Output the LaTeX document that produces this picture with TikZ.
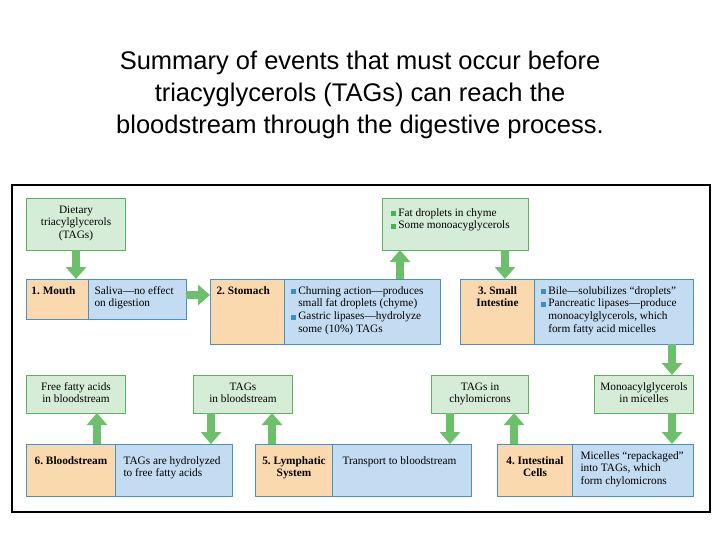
\documentclass[tikz,border=0pt]{standalone}
\usepackage{fontspec}
\setmainfont{Liberation Serif}
\newfontfamily\titlefont{Liberation Sans}
\usetikzlibrary{arrows.meta}
\definecolor{org}{HTML}{FBD9AE}
\definecolor{blu}{HTML}{C3DCF1}
\definecolor{bluline}{HTML}{4A90C8}
\definecolor{grn}{HTML}{D5EDD6}
\definecolor{grnline}{HTML}{5FAF5F}
\definecolor{garr}{HTML}{6CC06C}
\definecolor{bulb}{HTML}{3A8FC8}
\definecolor{bulg}{HTML}{4CAF50}
\frenchspacing
\newcommand{\bb}{\textcolor{bulb}{\rule{5pt}{5pt}}\ }
\newcommand{\bg}{\textcolor{bulg}{\rule{5pt}{5pt}}\ }
\newcommand{\tbx}[4]{\parbox[t][#2pt][t]{#1pt}{\vspace{6pt}#3\strut#4}}
\begin{document}
\begin{tikzpicture}[x=1pt,y=-1pt,
  base/.style={anchor=north west,inner sep=0pt,font=\fontsize{11.3}{12.6}\selectfont},
  obox/.style={base,fill=org,draw=bluline,line width=1pt,font=\fontsize{11.3}{12.6}\selectfont\bfseries},
  bbox/.style={base,fill=blu,draw=bluline,line width=1pt},
  gbox/.style={base,fill=grn,draw=grnline,line width=1pt},
  garrow/.style={draw=garr,line width=8pt,-{Triangle[width=20pt,length=12pt]}}]
\useasboundingbox (0,0) rectangle (720,540);
\fill[white] (0,0) rectangle (720,540);
\node[font=\titlefont\fontsize{25.5}{32}\selectfont,align=center] (title) at (360,95) {Summary of events that must occur before\\triacyglycerols (TAGs) can reach the\\bloodstream through the digestive process.};
\draw[line width=2pt] (12,185) rectangle (710,512);
% row 1
\node[gbox] (diet) at (26,198) {\tbx{99}{52}{\centering}{Dietary\\triacylglycerols\\(TAGs)}};
\node[obox] (mouth) at (26,279) {\tbx{62}{40}{\hspace*{5pt}}{1. Mouth}};
\node[bbox] (mouthb) at (88,279) {\tbx{98}{40}{\leftskip=6pt}{Saliva---no effect\\on digestion}};
\node[obox] (stom) at (210,279) {\tbx{74}{65}{\hspace*{6pt}}{2. Stomach}};
\node[bbox] (stomb) at (284,279) {\tbx{156}{65}{\leftskip=6pt}{\bb Churning action---produces\\\hphantom{\bb}small fat droplets (chyme)\\\bb Gastric lipases---hydrolyze\\\hphantom{\bb}some (10\%) TAGs}};
\node[gbox] (fat) at (382,198) {\tbx{146}{52}{\vspace{3pt}\leftskip=8pt}{\bg Fat droplets in chyme\\\bg Some monoacyglycerols}};
\node[obox] (small) at (460,279) {\tbx{74}{65}{\centering}{3. Small\\Intestine}};
\node[bbox] (smallb) at (534,279) {\tbx{159}{65}{\leftskip=6pt}{\bb Bile---solubilizes ``droplets''\\\bb Pancreatic lipases---produce\\\hphantom{\bb}monoacylglycerols, which\\\hphantom{\bb}form fatty acid micelles}};
% row 2 green
\node[gbox] (ffa) at (26,375) {\tbx{99}{38}{\centering}{Free fatty acids\\in bloodstream}};
\node[gbox] (tagb) at (193,375) {\tbx{99}{38}{\centering}{TAGs\\in bloodstream}};
\node[gbox] (tagc) at (431,375) {\tbx{97}{38}{\centering}{TAGs in\\chylomicrons}};
\node[gbox] (mono) at (594,375) {\tbx{99}{38}{\centering}{Monoacylglycerols\\in micelles}};
% row 3
\node[obox] (blood) at (26,444) {\tbx{89}{52}{\vspace{5pt}\centering}{6. Bloodstream}};
\node[bbox] (bloodb) at (115,444) {\tbx{117}{52}{\vspace{5pt}\leftskip=8pt}{TAGs are hydrolyzed\\to free fatty acids}};
\node[obox] (lymph) at (255,444) {\tbx{77}{52}{\vspace{5pt}\centering}{5. Lymphatic\\System}};
\node[bbox] (lymphb) at (332,444) {\tbx{139}{52}{\vspace{5pt}\leftskip=10pt}{Transport to bloodstream}};
\node[obox] (intc) at (497,444) {\tbx{75}{52}{\vspace{5pt}\centering}{4. Intestinal\\Cells}};
\node[bbox] (intcb) at (572,444) {\tbx{121}{52}{\leftskip=8pt}{Micelles ``repackaged''\\into TAGs, which\\form chylomicrons}};
% arrows
\coordinate (a1) at (76,250);
\draw[garrow] (a1) -- (a1 |- mouth.north);
\draw[garrow] (186,295) -- (stom.west |- 0,295);
\draw[garrow] (400,279) -- (400,250);
\draw[garrow] (505,250) -- (505,279);
\draw[garrow] (672,344) -- (672,375);
\draw[garrow] (672,413) -- (672,444);
\draw[garrow] (514,444) -- (514,413);
\draw[garrow] (450,413) -- (450,444);
\draw[garrow] (272,444) -- (272,413);
\draw[garrow] (211,413) -- (211,444);
\draw[garrow] (97,444) -- (97,413);
\end{tikzpicture}
\end{document}
